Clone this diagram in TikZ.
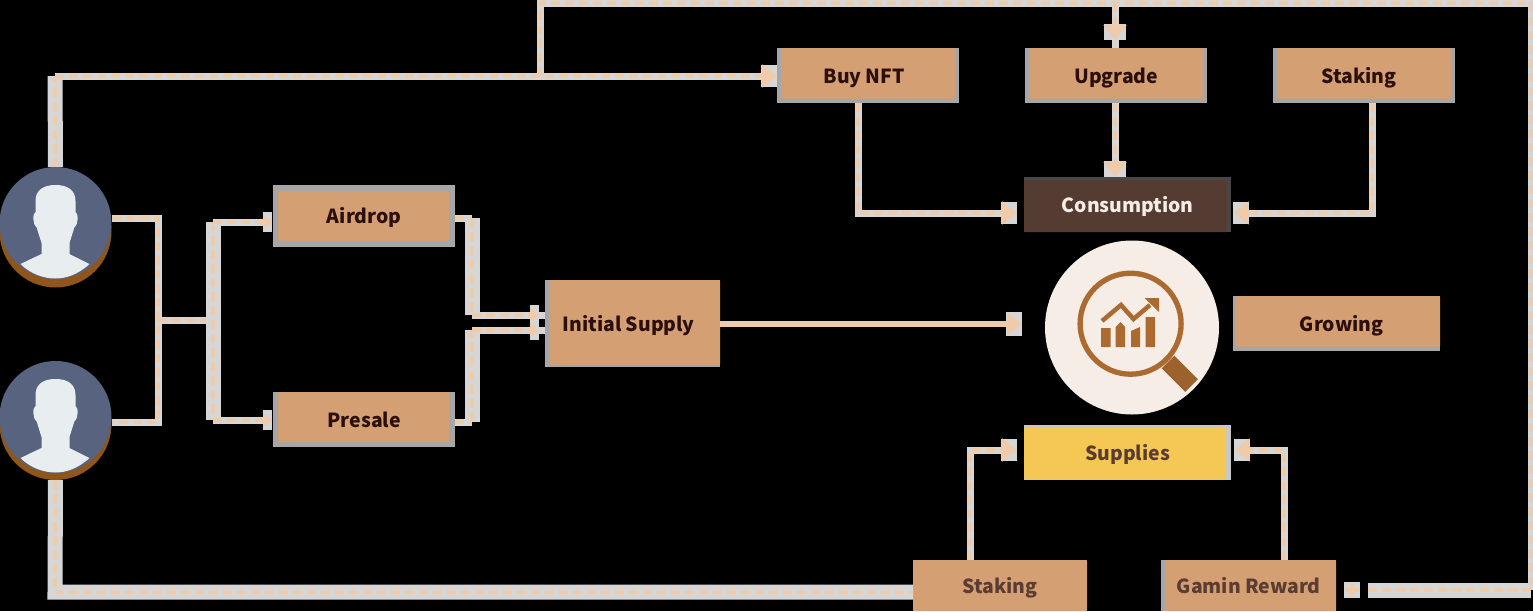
\documentclass[tikz,border=0pt]{standalone}
\usepackage{fontspec}
\setmainfont{Noto Sans CJK SC}
\usetikzlibrary{arrows.meta}
\definecolor{peach}{HTML}{EFCBAA}
\definecolor{halo}{HTML}{D6D6D6}
\definecolor{boxedge}{HTML}{A6A6A6}
\definecolor{boxtan}{HTML}{D39F73}
\definecolor{inkdark}{HTML}{2C0E0B}
\definecolor{inksoft}{HTML}{5A3C32}
\definecolor{cocoa}{HTML}{553C33}
\definecolor{honey}{HTML}{F5C855}
\definecolor{slate}{HTML}{586380}
\definecolor{skin}{HTML}{E8EDF0}
\definecolor{rust}{HTML}{8F5519}
\definecolor{cream}{HTML}{F6EDE6}
\definecolor{copper}{HTML}{AB6A30}
\tikzset{
  box/.style n args={5}{fill=boxedge,inner sep=0pt,anchor=north west,font=\bfseries\fontsize{19.4}{24}\selectfont,text=inkdark,text height=19pt,text depth=4pt,
    path picture={\fill[#5,rounded corners=1.5pt] ([shift={(#1pt,#4pt)}]path picture bounding box.south west) rectangle ([shift={(-#3pt,-#2pt)}]path picture bounding box.north east);}},
  wide/.style={minimum width=182pt,minimum height=55pt},
  link/.style={draw=peach,line width=3.5pt,dash pattern=on 9pt off 5pt,preaction={draw=halo,solid,line width=7pt}},
  linkwide/.style={draw=peach,line width=4pt,dash pattern=on 9pt off 5pt,preaction={draw=halo,solid,line width=15pt}},
  headed/.style={shorten >=#1,-{Triangle[length=15pt,width=22pt,color=peach]},preaction={draw=halo,solid,line width=7pt,-{Square[length=16pt,width=22pt,color=halo]}}},
  headed/.default=7pt,
  headedsmall/.style={shorten >=#1,-{Triangle[length=9pt,width=14pt,color=peach]},preaction={draw=halo,solid,line width=7pt,-{Square[length=9pt,width=20pt,color=halo]}}},
  userdisc/.style={circle,fill=slate,inner sep=0pt,minimum size=112pt},
  gapmark/.style={fill=halo,inner sep=0pt,minimum size=16pt,
    path picture={\fill[peach] ([shift={(-2pt,-7pt)}]path picture bounding box.center) rectangle ([shift={(2pt,7pt)}]path picture bounding box.center)
      ([shift={(-7pt,-2pt)}]path picture bounding box.center) rectangle ([shift={(7pt,2pt)}]path picture bounding box.center);}},
  person/.pic={
    \fill[skin] (0,-38) .. controls (12,-38) and (20,-33) .. (20,-22) -- (20,-11) .. controls (23,-10) and (23,2) .. (19,4)
      -- (14,20) -- (14,31) -- (34,41) .. controls (22,52) and (10,55.5) .. (0,55.5) .. controls (-10,55.5) and (-24,52) .. (-35,41)
      -- (-14,31) -- (-14,20) -- (-19,4) .. controls (-23,2) and (-23,-10) .. (-20,-11) -- (-20,-22) .. controls (-20,-33) and (-12,-38) .. (0,-38) -- cycle;
  }
}
\begin{document}
\begin{tikzpicture}[x=1pt,y=-1pt]
  \useasboundingbox (0,0) rectangle (1533,611);
  \fill[black] (0,0) rectangle (1533,611);
  % users
  \fill[rust] (55.5,231.5) circle (56pt);
  \fill[rust] (55.5,424) circle (56pt);
  \node[userdisc] (userA) at (55.5,223) {};
  \node[userdisc] (userB) at (55.5,417) {};
  \pic at (userA) {person};
  \pic at (userB) {person};
  % boxes
  \node[box={5}{6}{6}{6}{boxtan},minimum width=182pt,minimum height=62pt] (airdrop) at (273,185) {Airdrop};
  \node[box={5}{0}{6}{5}{boxtan},wide] (presale) at (273,392) {Presale};
  \node[box={4}{0}{0}{2}{boxtan},minimum width=175pt,minimum height=87pt] (initial) at (545,280) {\kern-8pt Initial Supply};
  \node[box={4}{0}{4}{4}{boxtan},wide] (buy) at (777,48) {\kern-8pt Buy NFT};
  \node[box={4}{0}{4}{4}{boxtan},wide] (upgrade) at (1025,48) {Upgrade};
  \node[box={4}{0}{4}{4}{boxtan},wide] (stakeTop) at (1273,48) {\kern-10pt Staking};
  \node[box={0}{3}{4}{0}{cocoa},fill=black!72,minimum width=207pt,minimum height=55pt,text=cream] (cons) at (1024,177) {Consumption};
  \node[box={3}{0}{0}{4}{boxtan},minimum width=207pt,minimum height=55pt] (growing) at (1233,296) {\kern10pt Growing};
  \node[box={0}{2}{5}{1}{honey},fill=black!22,minimum width=207pt,minimum height=55pt,text=inksoft] (supplies) at (1024,425) {Supplies};
  \node[box={0}{0}{0}{0}{boxtan},minimum width=174pt,minimum height=51pt,text=inksoft] (stakeLow) at (913,560) {Staking};
  \node[box={4}{0}{0}{0}{boxtan},minimum width=175pt,minimum height=51pt,text=inksoft] (reward) at (1161,560) {Gamin Reward};
  % magnifier
  \node[circle,fill=cream,inner sep=0pt,minimum size=174pt] (lens) at (1132,327.5) {};
  \draw[copper,line width=5.3pt] (1130.6,323.7) circle (50.5pt);
  \draw[copper!92!black,line width=18pt] (1168,362) -- (1191.5,385.5);
  \fill[copper] (1101,347) rectangle (1110.5,328) (1145.6,347) rectangle (1155,317)
    (1115.6,347) -- (1115.6,327) -- (1120.5,322) -- (1125,327) -- (1125,347) -- cycle
    (1131,347) -- (1131,331) -- (1140,327) -- (1140,347) -- cycle;
  \draw[copper,line width=4.5pt] (1102,321) -- (1121,305) -- (1133.5,319) -- (1150,305);
  \fill[copper] (1144.5,298) -- (1159,298) -- (1159,312) -- cycle;
  % corners of the connectors
  \coordinate (upA) at (55,76);
  \coordinate (lowA) at (55,592);
  \coordinate (fork) at (540,76);
  \coordinate (railA) at (540,3);
  \coordinate (railB) at (1531,3);
  \coordinate (railC) at (1531,590);
  \coordinate (railEnd) at (1368,590);
  \coordinate (railDrop) at (1115,3);
  \coordinate (joinTop) at (158,218);
  \coordinate (joinLow) at (158,422);
  \coordinate (joinMid) at (158,320);
  \coordinate (splitMid) at (213,320);
  \coordinate (splitTop) at (213,222);
  \coordinate (splitLow) at (213,420);
  \coordinate (mergeTop) at (472,218);
  \coordinate (mergeLow) at (472,422);
  \coordinate (inTop) at (472,315);
  \coordinate (inLow) at (472,330);
  \coordinate (buyBend) at (858,213);
  \coordinate (stakeBend) at (1372,213);
  \coordinate (lowBend) at (970,450);
  \coordinate (rewardBend) at (1284,450);
  % connectors
  \draw[linkwide] (userA.north) -- (upA);
  \draw[link,headed=0pt] (upA) -- (upA -| buy.west);
  \draw[link] (fork) -- (railA) -- (railB) -- (railC);
  \draw[linkwide] (railC) -- (railEnd);
  \node[gapmark] (gapbox) at (1352,590) {};
  \draw[draw=halo,line width=7pt] (railDrop) -- (upgrade.north -| railDrop);
  \draw[link,headed=8pt] (railDrop) -- (upgrade.north -| railDrop);
  \draw[link,headed=0pt] (upgrade.south -| railDrop) -- (cons.north -| railDrop);
  \draw[link,headed] (buy.south -| buyBend) -- (buyBend) -- (buyBend -| cons.west);
  \draw[link,headed=2pt] (stakeTop.south -| stakeBend) -- (stakeBend) -- (stakeBend -| cons.east);
  \draw[link] (joinTop -| userA.east) -- (joinTop) -- (joinLow) -- (joinLow -| userB.east);
  \draw[link] (joinMid) -- (splitMid);
  \draw[linkwide] (splitTop) -- (splitLow);
  \draw[link,headedsmall=1pt] (splitTop) -- (splitTop -| airdrop.west);
  \draw[link,headedsmall=1pt] (splitLow) -- (splitLow -| presale.west);
  \draw[link] (mergeTop -| airdrop.east) -- (mergeTop);
  \draw[link] (mergeLow -| presale.east) -- (mergeLow);
  \draw[linkwide] (mergeTop) -- (inTop);
  \draw[linkwide] (mergeLow) -- (inLow);
  \draw[draw=halo,line width=7pt] (inTop) -- (inTop -| initial.west) (inLow) -- (inLow -| initial.west);
  \draw[link,headedsmall=6pt] (inTop) -- (inTop -| initial.west);
  \draw[link,headedsmall=6pt] (inLow) -- (inLow -| initial.west);
  \draw[draw=peach,line width=6pt,shorten >=23pt,-{Triangle[length=15pt,width=22pt,color=peach]},preaction={draw=peach,line width=6pt,-{Square[length=16pt,width=24pt,color=halo]}}] (initial.east) -- (lens.west |- initial.east);
  \draw[linkwide] (userB.south) ++(0,7) -- (lowA) -- (lowA -| stakeLow.west);
  \draw[link,headed] (stakeLow.north -| lowBend) -- (lowBend) -- (lowBend -| supplies.west);
  \draw[link,headed=3pt] (reward.north -| rewardBend) -- (rewardBend) -- (rewardBend -| supplies.east);
\end{tikzpicture}
\end{document}
